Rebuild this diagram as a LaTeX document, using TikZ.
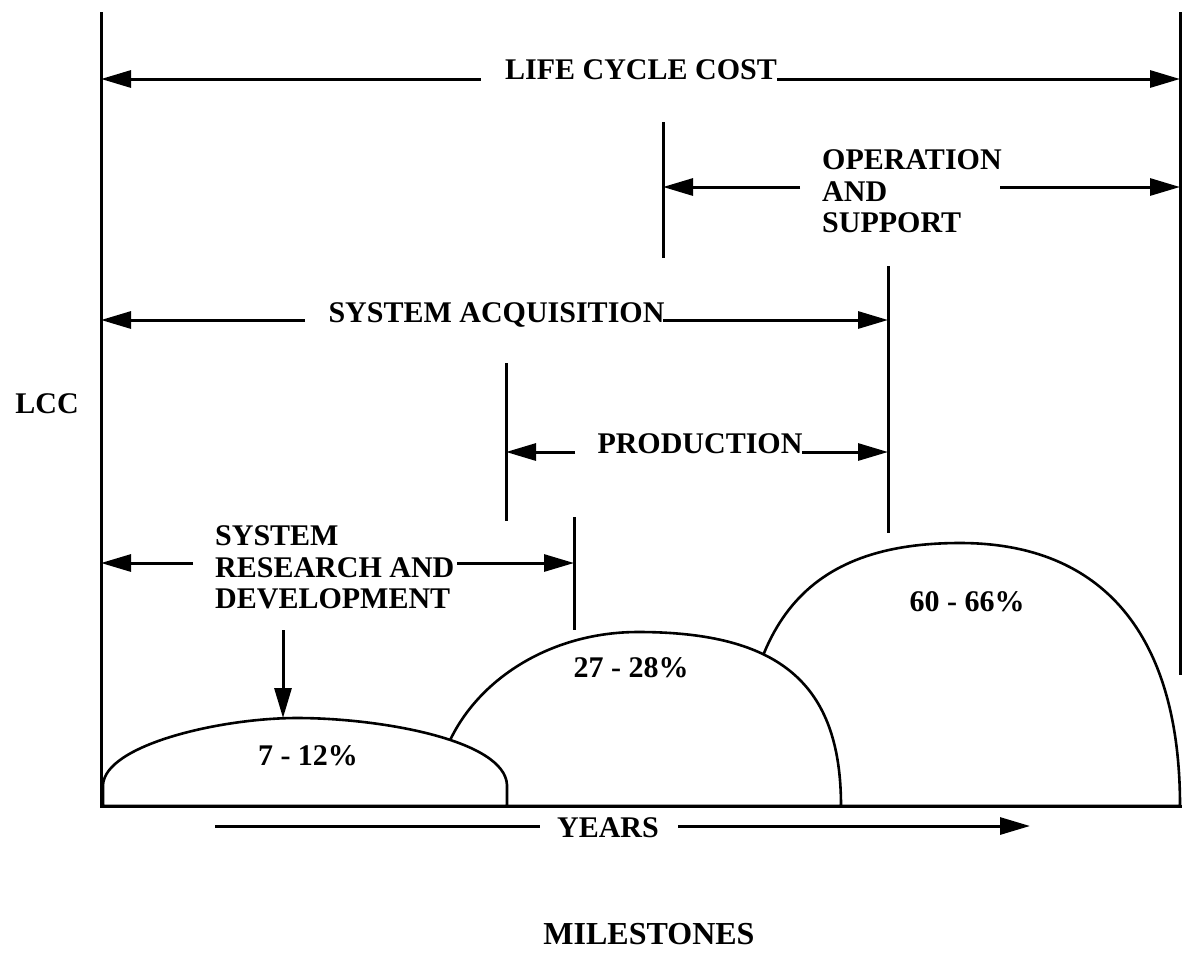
\documentclass[tikz,border=0pt]{standalone}
\usepackage{fontspec}
\setmainfont{Liberation Serif}
\usetikzlibrary{arrows.meta}
\begin{document}
\begin{tikzpicture}[x=1pt,y=-1pt,
  lab/.style={font=\fontsize{30}{31.5}\selectfont\bfseries, inner sep=0pt, anchor=base},
  labw/.style={lab, anchor=base west},
  ln/.style={line width=3pt},
  arr/.style={line width=3pt, -{Triangle[length=30pt,width=17pt]}},
  hump/.style={line width=2.6pt, fill=white}]
\useasboundingbox (0,0) rectangle (1193,956);
% axes and ticks
\coordinate (axTop) at (101,12);
\coordinate (origin) at (101,806);
\coordinate (axEnd) at (1182,806);
\coordinate (rTop) at (1180,12);
\coordinate (rBot) at (1180,675);
\coordinate (t1a) at (663,122); \coordinate (t1b) at (663,258);
\coordinate (t2a) at (888,266); \coordinate (t2b) at (888,533);
\coordinate (t3a) at (506,363); \coordinate (t3b) at (506,521);
\coordinate (t4a) at (574,517); \coordinate (t4b) at (574,630);
% humps
\draw[hump] (740,806) .. controls (740,622) and (806,543) .. (960,543)
  .. controls (1103,543) and (1180,635) .. (1180,806) -- cycle;
\draw[hump] (435,806) .. controls (435,710) and (526,632) .. (638,632)
  .. controls (780,632) and (841,684) .. (841,806) -- cycle;
\draw[hump] (103,806) -- (103,785) .. controls (105,745) and (220,718) .. (297,718)
  .. controls (380,718) and (505,740) .. (507,785) -- (507,806) -- cycle;
\draw[ln] (axTop) -- (origin) -- (axEnd);
\draw[ln] (rTop) -- (rBot);
\draw[ln] (t1a) -- (t1b);
\draw[ln] (t2a) -- (t2b);
\draw[ln] (t3a) -- (t3b);
\draw[ln] (t4a) -- (t4b);
% labels
\node[lab] (lcc) at (641,79) {LIFE CYCLE COST};
\node[labw] (op1) at (822,169.5) {OPERATION};
\node[labw] (op2) at (822,201) {AND};
\node[labw] (op3) at (822,232.5) {SUPPORT};
\node[lab] (sa) at (496.5,322) {SYSTEM ACQUISITION};
\node[lab] (prod) at (700,453) {PRODUCTION};
\node[labw] (rd1) at (215,545) {SYSTEM};
\node[labw] (rd2) at (215,577) {RESEARCH AND};
\node[labw] (rd3) at (215,608) {DEVELOPMENT};
\node[lab] (p1) at (308,765) {7 - 12\%};
\node[lab] (p2) at (631,677) {27 - 28\%};
\node[lab] (p3) at (967,611) {60 - 66\%};
\node[lab] (lccax) at (47,413) {LCC};
\node[lab] (yrs) at (608,837) {YEARS};
\node[lab, font=\fontsize{32}{34}\selectfont\bfseries] (ms) at (649,944) {MILESTONES};
% arrows
\coordinate (lccL) at (101,79); \coordinate (lccR) at (1180,79);
\draw[arr] ([xshift=-24pt]lcc.base west) -- (lccL);
\draw[arr] (lcc.base east) -- (lccR);
\coordinate (opL) at (663,187); \coordinate (opR) at (1180,187);
\coordinate (opA) at (800,187); \coordinate (opB) at (1000,187);
\draw[arr] (opA) -- (opL);
\draw[arr] (opB) -- (opR);
\coordinate (saL) at (101,320); \coordinate (saR) at (888,320);
\coordinate (saA) at (305,320); \coordinate (saB) at (663,320);
\draw[arr] (saA) -- (saL);
\draw[arr] (saB) -- (saR);
\coordinate (prL) at (506,452); \coordinate (prR) at (888,452);
\coordinate (prA) at (575,452); \coordinate (prB) at (802,452);
\draw[arr] (prA) -- (prL);
\draw[arr] (prB) -- (prR);
\coordinate (rdL) at (101,563); \coordinate (rdR) at (574,563);
\coordinate (rdA) at (193,563); \coordinate (rdB) at (457,563);
\draw[arr] (rdA) -- (rdL);
\draw[arr] (rdB) -- (rdR);
\coordinate (dnA) at (283,630); \coordinate (dnB) at (283,718);
\draw[arr] (dnA) -- (dnB);
\coordinate (yA) at (215,826); \coordinate (yB) at (540,826);
\coordinate (yC) at (678,826); \coordinate (yD) at (1030,826);
\draw[ln] (yA) -- (yB);
\draw[arr] (yC) -- (yD);
\end{tikzpicture}
\end{document}
